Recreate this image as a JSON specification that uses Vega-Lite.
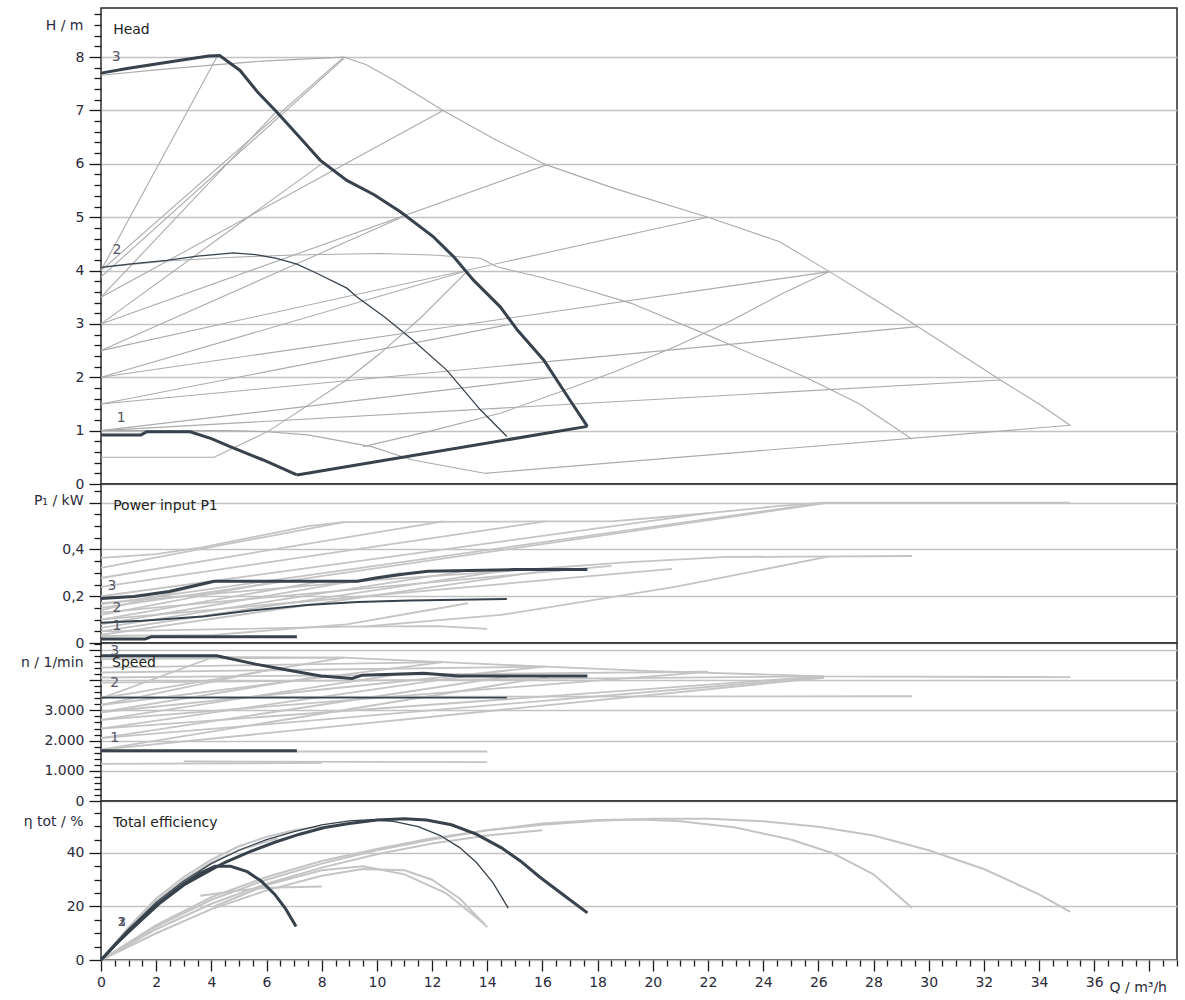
{
"$schema": "https://vega.github.io/schema/vega-lite/v6.json",
"background": "white",
"padding": {"left": 19, "top": 6, "right": 6, "bottom": 2},
"spacing": 0,
"bounds": "flush",
"config": {
  "font": "DejaVu Sans",
  "view": {"stroke": "#2a2a2a", "strokeWidth": 1.5},
  "axis": {"labelFont": "DejaVu Sans", "labelFontSize": 14, "labelColor": "#2a2a3a", "tickColor": "#1a1a1a", "tickWidth": 1.3, "gridColor": "#c2c2c2", "gridWidth": 1.5, "domain": false, "labelOverlap": false, "labelFlush": false, "titleFont": "DejaVu Sans", "titleFontSize": 14, "titleFontWeight": "normal", "titleColor": "#2a2a3a", "labelPadding": 5},
  "concat": {"spacing": 0}
},
"datasets": {
"titles": [
{"p":"head","t":"Head","q":0.44,"v":8.5},
{"p":"power","t":"Power input P1","q":0.44,"v":0.585},
{"p":"speed","t":"Speed","q":0.4,"v":4567},
{"p":"eff","t":"Total efficiency","q":0.44,"v":51.2}
],
"labels": [
{"p":"head","t":"3","q":0.55,"v":8.0},{"p":"head","t":"2","q":0.58,"v":4.38},{"p":"head","t":"1","q":0.73,"v":1.24},
{"p":"power","t":"3","q":0.4,"v":0.242},{"p":"power","t":"2","q":0.58,"v":0.15},{"p":"power","t":"1","q":0.58,"v":0.073},
{"p":"speed","t":"3","q":0.5,"v":4967},{"p":"speed","t":"2","q":0.5,"v":3900},{"p":"speed","t":"1","q":0.5,"v":2100},
{"p":"eff","t":"1","q":0.76,"v":14.2},{"p":"eff","t":"2","q":0.76,"v":14.2},{"p":"eff","t":"3","q":0.76,"v":14.2}
],
"head": [
{"s":"A3","k":"d","q":0,"v":7.70},{"s":"A3","k":"d","q":1,"v":7.79},{"s":"A3","k":"d","q":2,"v":7.87},{"s":"A3","k":"d","q":3,"v":7.95},{"s":"A3","k":"d","q":3.9,"v":8.02},{"s":"A3","k":"d","q":4.3,"v":8.03},{"s":"A3","k":"d","q":5.04,"v":7.75},{"s":"A3","k":"d","q":5.7,"v":7.33},{"s":"A3","k":"d","q":6.37,"v":6.97},{"s":"A3","k":"d","q":7.2,"v":6.5},{"s":"A3","k":"d","q":7.94,"v":6.07},{"s":"A3","k":"d","q":8.91,"v":5.69},{"s":"A3","k":"d","q":9.9,"v":5.42},{"s":"A3","k":"d","q":10.85,"v":5.10},{"s":"A3","k":"d","q":12.05,"v":4.63},{"s":"A3","k":"d","q":12.8,"v":4.25},{"s":"A3","k":"d","q":13.5,"v":3.82},{"s":"A3","k":"d","q":14.47,"v":3.32},{"s":"A3","k":"d","q":15.1,"v":2.88},{"s":"A3","k":"d","q":16.05,"v":2.32},{"s":"A3","k":"d","q":17.0,"v":1.57},{"s":"A3","k":"d","q":17.55,"v":1.14},{"s":"A3","k":"d","q":17.63,"v":1.08},
{"s":"Amin","k":"d","q":7.1,"v":0.17},{"s":"Amin","k":"d","q":17.63,"v":1.08},
{"s":"A1","k":"d","q":0,"v":0.92},{"s":"A1","k":"d","q":1.45,"v":0.92},{"s":"A1","k":"d","q":1.66,"v":0.98},{"s":"A1","k":"d","q":3.23,"v":0.98},{"s":"A1","k":"d","q":4.0,"v":0.85},{"s":"A1","k":"d","q":4.68,"v":0.70},{"s":"A1","k":"d","q":5.88,"v":0.45},{"s":"A1","k":"d","q":7.1,"v":0.17},
{"s":"A2","k":"t","q":0,"v":4.06},{"s":"A2","k":"t","q":1,"v":4.12},{"s":"A2","k":"t","q":2.38,"v":4.19},{"s":"A2","k":"t","q":3.5,"v":4.27},{"s":"A2","k":"t","q":4.8,"v":4.33},{"s":"A2","k":"t","q":5.6,"v":4.30},{"s":"A2","k":"t","q":6.37,"v":4.23},{"s":"A2","k":"t","q":7.1,"v":4.12},{"s":"A2","k":"t","q":7.82,"v":3.95},{"s":"A2","k":"t","q":8.91,"v":3.67},{"s":"A2","k":"t","q":9.27,"v":3.51},{"s":"A2","k":"t","q":10.3,"v":3.12},{"s":"A2","k":"t","q":11.3,"v":2.70},{"s":"A2","k":"t","q":12.54,"v":2.13},{"s":"A2","k":"t","q":13.75,"v":1.39},{"s":"A2","k":"t","q":14.71,"v":0.89},
{"s":"B3","k":"g","q":0,"v":7.66},{"s":"B3","k":"g","q":2,"v":7.76},{"s":"B3","k":"g","q":4,"v":7.85},{"s":"B3","k":"g","q":6,"v":7.93},{"s":"B3","k":"g","q":8.8,"v":8.0},{"s":"B3","k":"g","q":9.6,"v":7.86},{"s":"B3","k":"g","q":10.6,"v":7.57},{"s":"B3","k":"g","q":12.4,"v":7.0},{"s":"B3","k":"g","q":14.3,"v":6.45},{"s":"B3","k":"g","q":16.15,"v":5.98},{"s":"B3","k":"g","q":18.6,"v":5.54},{"s":"B3","k":"g","q":22.0,"v":5.0},{"s":"B3","k":"g","q":24.6,"v":4.54},{"s":"B3","k":"g","q":26.4,"v":3.98},{"s":"B3","k":"g","q":28,"v":3.47},{"s":"B3","k":"g","q":29.6,"v":2.95},{"s":"B3","k":"g","q":31.1,"v":2.45},{"s":"B3","k":"g","q":32.6,"v":1.95},{"s":"B3","k":"g","q":34,"v":1.5},{"s":"B3","k":"g","q":35.13,"v":1.10},
{"s":"Bmin","k":"g","q":13.9,"v":0.2},{"s":"Bmin","k":"g","q":35.13,"v":1.10},
{"s":"B1","k":"g","q":0,"v":1.0},{"s":"B1","k":"g","q":4.6,"v":1.0},{"s":"B1","k":"g","q":6,"v":0.98},{"s":"B1","k":"g","q":7.5,"v":0.92},{"s":"B1","k":"g","q":9.8,"v":0.70},{"s":"B1","k":"g","q":11.3,"v":0.45},{"s":"B1","k":"g","q":13.9,"v":0.2},
{"s":"B2","k":"g","q":0,"v":4.06},{"s":"B2","k":"g","q":2.4,"v":4.18},{"s":"B2","k":"g","q":4.8,"v":4.25},{"s":"B2","k":"g","q":7,"v":4.29},{"s":"B2","k":"g","q":10.1,"v":4.32},{"s":"B2","k":"g","q":12,"v":4.29},{"s":"B2","k":"g","q":13.75,"v":4.23},{"s":"B2","k":"g","q":14.35,"v":4.07},{"s":"B2","k":"g","q":15.9,"v":3.88},{"s":"B2","k":"g","q":17.4,"v":3.67},{"s":"B2","k":"g","q":19.2,"v":3.39},{"s":"B2","k":"g","q":22.0,"v":2.79},{"s":"B2","k":"g","q":25.5,"v":2.01},{"s":"B2","k":"g","q":27.5,"v":1.5},{"s":"B2","k":"g","q":29.4,"v":0.84},
{"s":"pa8","k":"g","q":0,"v":4.0},{"s":"pa8","k":"g","q":4.2,"v":8.0},
{"s":"pa7","k":"g","q":0,"v":3.5},{"s":"pa7","k":"g","q":6.4,"v":7.0},
{"s":"pa6","k":"g","q":0,"v":3.0},{"s":"pa6","k":"g","q":8.0,"v":6.0},
{"s":"pa5","k":"g","q":0,"v":2.5},{"s":"pa5","k":"g","q":10.9,"v":5.0},
{"s":"pa4","k":"g","q":0,"v":2.0},{"s":"pa4","k":"g","q":13.3,"v":4.0},
{"s":"pa3","k":"g","q":0,"v":1.5},{"s":"pa3","k":"g","q":14.9,"v":3.0},
{"s":"pa2","k":"g","q":0,"v":1.0},{"s":"pa2","k":"g","q":16.4,"v":2.0},
{"s":"pb8","k":"g","q":0,"v":4.0},{"s":"pb8","k":"g","q":8.8,"v":8.0},
{"s":"pb8b","k":"g","q":0,"v":3.88},{"s":"pb8b","k":"g","q":8.8,"v":7.97},
{"s":"pb7","k":"g","q":0,"v":3.5},{"s":"pb7","k":"g","q":12.4,"v":7.0},
{"s":"pb6","k":"g","q":0,"v":3.0},{"s":"pb6","k":"g","q":16.15,"v":5.98},
{"s":"pb5","k":"g","q":0,"v":2.5},{"s":"pb5","k":"g","q":22.0,"v":5.0},
{"s":"pb4","k":"g","q":0,"v":2.0},{"s":"pb4","k":"g","q":26.4,"v":3.98},
{"s":"pb3","k":"g","q":0,"v":1.5},{"s":"pb3","k":"g","q":29.6,"v":2.95},
{"s":"pb2","k":"g","q":0,"v":1.0},{"s":"pb2","k":"g","q":32.6,"v":1.95},
{"s":"ra","k":"g","q":0,"v":0.5},{"s":"ra","k":"g","q":4.1,"v":0.5},{"s":"ra","k":"g","q":6.1,"v":1.0},{"s":"ra","k":"g","q":8.9,"v":1.95},{"s":"ra","k":"g","q":10.1,"v":2.44},{"s":"ra","k":"g","q":11.6,"v":3.12},{"s":"ra","k":"g","q":13.3,"v":4.0},
{"s":"rb","k":"g","q":9.5,"v":0.7},{"s":"rb","k":"g","q":12,"v":1.0},{"s":"rb","k":"g","q":14.5,"v":1.33},{"s":"rb","k":"g","q":16.5,"v":1.70},{"s":"rb","k":"g","q":18.6,"v":2.1},{"s":"rb","k":"g","q":20.8,"v":2.57},{"s":"rb","k":"g","q":22.8,"v":3.05},{"s":"rb","k":"g","q":24.7,"v":3.57},{"s":"rb","k":"g","q":26.4,"v":3.98}
],
"power": [
{"s":"A3","k":"d","q":0,"v":0.19},{"s":"A3","k":"d","q":1.2,"v":0.199},{"s":"A3","k":"d","q":2.47,"v":0.22},{"s":"A3","k":"d","q":4.09,"v":0.264},{"s":"A3","k":"d","q":9.3,"v":0.264},{"s":"A3","k":"d","q":9.97,"v":0.278},{"s":"A3","k":"d","q":11.0,"v":0.295},{"s":"A3","k":"d","q":11.85,"v":0.307},{"s":"A3","k":"d","q":14.97,"v":0.314},{"s":"A3","k":"d","q":17.63,"v":0.314},
{"s":"A1","k":"d","q":0,"v":0.017},{"s":"A1","k":"d","q":1.6,"v":0.017},{"s":"A1","k":"d","q":1.84,"v":0.027},{"s":"A1","k":"d","q":7.1,"v":0.027},
{"s":"A2","k":"t","q":0,"v":0.087},{"s":"A2","k":"t","q":1.5,"v":0.095},{"s":"A2","k":"t","q":3.7,"v":0.113},{"s":"A2","k":"t","q":5.5,"v":0.14},{"s":"A2","k":"t","q":7.47,"v":0.163},{"s":"A2","k":"t","q":9.3,"v":0.175},{"s":"A2","k":"t","q":11.2,"v":0.182},{"s":"A2","k":"t","q":14.71,"v":0.188},
{"s":"B3","k":"g","q":0,"v":0.364},{"s":"B3","k":"g","q":2,"v":0.38},{"s":"B3","k":"g","q":3.7,"v":0.41},{"s":"B3","k":"g","q":5.6,"v":0.455},{"s":"B3","k":"g","q":7.5,"v":0.50},{"s":"B3","k":"g","q":8.8,"v":0.517},{"s":"B3","k":"g","q":16.1,"v":0.52},{"s":"B3","k":"g","q":18.5,"v":0.52},{"s":"B3","k":"g","q":20.5,"v":0.54},{"s":"B3","k":"g","q":22,"v":0.555},{"s":"B3","k":"g","q":24.5,"v":0.585},{"s":"B3","k":"g","q":26.2,"v":0.60},{"s":"B3","k":"g","q":35.13,"v":0.60},
{"s":"pb8","k":"g","q":0,"v":0.321},{"s":"pb8","k":"g","q":8.8,"v":0.517},
{"s":"pb7","k":"g","q":0,"v":0.278},{"s":"pb7","k":"g","q":12.4,"v":0.52},
{"s":"pb6","k":"g","q":0,"v":0.24},{"s":"pb6","k":"g","q":16.1,"v":0.52},
{"s":"pb5","k":"g","q":0,"v":0.20},{"s":"pb5","k":"g","q":22,"v":0.555},
{"s":"pb4","k":"g","q":0,"v":0.165},{"s":"pb4","k":"g","q":26.2,"v":0.60},
{"s":"pb4b","k":"g","q":0,"v":0.15},{"s":"pb4b","k":"g","q":26.2,"v":0.597},
{"s":"pb3","k":"g","q":0,"v":0.13},{"s":"pb3","k":"g","q":18.5,"v":0.33},
{"s":"pb2","k":"g","q":0,"v":0.10},{"s":"pb2","k":"g","q":20.7,"v":0.317},
{"s":"B2","k":"g","q":0,"v":0.17},{"s":"B2","k":"g","q":5,"v":0.22},{"s":"B2","k":"g","q":10,"v":0.27},{"s":"B2","k":"g","q":15,"v":0.31},{"s":"B2","k":"g","q":19,"v":0.345},{"s":"B2","k":"g","q":22.7,"v":0.368},{"s":"B2","k":"g","q":29.4,"v":0.372},
{"s":"B1","k":"g","q":0,"v":0.05},{"s":"B1","k":"g","q":5,"v":0.06},{"s":"B1","k":"g","q":9,"v":0.07},{"s":"B1","k":"g","q":12.2,"v":0.072},{"s":"B1","k":"g","q":14,"v":0.06},
{"s":"pa8","k":"g","q":0,"v":0.14},{"s":"pa8","k":"g","q":4.2,"v":0.264},
{"s":"pa7","k":"g","q":0,"v":0.12},{"s":"pa7","k":"g","q":6.4,"v":0.264},
{"s":"pa6","k":"g","q":0,"v":0.10},{"s":"pa6","k":"g","q":8.0,"v":0.264},
{"s":"pa5","k":"g","q":0,"v":0.08},{"s":"pa5","k":"g","q":10.9,"v":0.30},
{"s":"pa4","k":"g","q":0,"v":0.065},{"s":"pa4","k":"g","q":13.3,"v":0.31},
{"s":"pa3","k":"g","q":0,"v":0.05},{"s":"pa3","k":"g","q":14.9,"v":0.314},
{"s":"pa2","k":"g","q":0,"v":0.035},{"s":"pa2","k":"g","q":16.4,"v":0.314},
{"s":"ra","k":"g","q":0,"v":0.03},{"s":"ra","k":"g","q":4.1,"v":0.035},{"s":"ra","k":"g","q":8.9,"v":0.08},{"s":"ra","k":"g","q":13.3,"v":0.17},
{"s":"rb","k":"g","q":9.5,"v":0.07},{"s":"rb","k":"g","q":14.5,"v":0.12},{"s":"rb","k":"g","q":20.8,"v":0.24},{"s":"rb","k":"g","q":26.4,"v":0.37}
],
"speed": [
{"s":"A3","k":"d","q":0,"v":4810},{"s":"A3","k":"d","q":4.2,"v":4810},{"s":"A3","k":"d","q":5.6,"v":4533},{"s":"A3","k":"d","q":6.8,"v":4330},{"s":"A3","k":"d","q":7.97,"v":4143},{"s":"A3","k":"d","q":9.1,"v":4056},{"s":"A3","k":"d","q":9.47,"v":4167},{"s":"A3","k":"d","q":11.7,"v":4233},{"s":"A3","k":"d","q":12.97,"v":4143},{"s":"A3","k":"d","q":17.63,"v":4143},
{"s":"A1","k":"d","q":0,"v":1667},{"s":"A1","k":"d","q":7.1,"v":1667},
{"s":"A2","k":"t","q":0,"v":3423},{"s":"A2","k":"t","q":14.71,"v":3423},
{"s":"B3","k":"g","q":0,"v":4780},{"s":"B3","k":"g","q":8.8,"v":4750},{"s":"B3","k":"g","q":12.4,"v":4600},{"s":"B3","k":"g","q":16.1,"v":4450},{"s":"B3","k":"g","q":20,"v":4300},{"s":"B3","k":"g","q":26.2,"v":4130},{"s":"B3","k":"g","q":35.13,"v":4100},
{"s":"pa8","k":"g","q":0,"v":3400},{"s":"pa8","k":"g","q":4.2,"v":4810},
{"s":"pa7","k":"g","q":0,"v":3180},{"s":"pa7","k":"g","q":6.4,"v":4400},
{"s":"pa6","k":"g","q":0,"v":2940},{"s":"pa6","k":"g","q":8,"v":4143},
{"s":"pa5","k":"g","q":0,"v":2690},{"s":"pa5","k":"g","q":10.9,"v":4210},
{"s":"pa4","k":"g","q":0,"v":2400},{"s":"pa4","k":"g","q":13.3,"v":4143},
{"s":"pa3","k":"g","q":0,"v":2080},{"s":"pa3","k":"g","q":14.9,"v":4143},
{"s":"pa2","k":"g","q":0,"v":1700},{"s":"pa2","k":"g","q":16.4,"v":4143},
{"s":"pb8","k":"g","q":0,"v":3400},{"s":"pb8","k":"g","q":8.8,"v":4750},
{"s":"pb7","k":"g","q":0,"v":3180},{"s":"pb7","k":"g","q":12.4,"v":4600},
{"s":"pb6","k":"g","q":0,"v":2940},{"s":"pb6","k":"g","q":16.1,"v":4450},
{"s":"pb5","k":"g","q":0,"v":2690},{"s":"pb5","k":"g","q":22,"v":4280},
{"s":"pb4","k":"g","q":0,"v":2400},{"s":"pb4","k":"g","q":26.2,"v":4130},
{"s":"pb3","k":"g","q":0,"v":2080},{"s":"pb3","k":"g","q":26.2,"v":4100},
{"s":"pb2","k":"g","q":0,"v":1700},{"s":"pb2","k":"g","q":26.2,"v":4080},
{"s":"c1","k":"g","q":0,"v":4700},{"s":"c1","k":"g","q":8.8,"v":4750},
{"s":"c2","k":"g","q":0,"v":4420},{"s":"c2","k":"g","q":12.4,"v":4600},
{"s":"c3","k":"g","q":0,"v":4256},{"s":"c3","k":"g","q":16.1,"v":4450},
{"s":"c4","k":"g","q":0,"v":4090},{"s":"c4","k":"g","q":22,"v":4280},
{"s":"c5","k":"g","q":0,"v":3920},{"s":"c5","k":"g","q":26.2,"v":4130},
{"s":"B2","k":"g","q":0,"v":3440},{"s":"B2","k":"g","q":29.4,"v":3470},
{"s":"B1","k":"g","q":0,"v":1640},{"s":"B1","k":"g","q":14,"v":1640},
{"s":"r1","k":"g","q":0,"v":1230},{"s":"r1","k":"g","q":8,"v":1260},
{"s":"r2","k":"g","q":3,"v":1310},{"s":"r2","k":"g","q":14,"v":1290}
],
"eff": [
{"s":"A3","k":"d","q":0,"v":0},{"s":"A3","k":"d","q":0.5,"v":5.5},{"s":"A3","k":"d","q":1.05,"v":11},{"s":"A3","k":"d","q":2.1,"v":21},{"s":"A3","k":"d","q":3,"v":28},{"s":"A3","k":"d","q":3.6,"v":31.5},{"s":"A3","k":"d","q":4.5,"v":36.5},{"s":"A3","k":"d","q":5.4,"v":40.5},{"s":"A3","k":"d","q":6.3,"v":44},{"s":"A3","k":"d","q":7.2,"v":47},{"s":"A3","k":"d","q":8.1,"v":49.5},{"s":"A3","k":"d","q":9,"v":51},{"s":"A3","k":"d","q":10,"v":52.3},{"s":"A3","k":"d","q":11,"v":52.8},{"s":"A3","k":"d","q":11.8,"v":52.3},{"s":"A3","k":"d","q":12.7,"v":50.5},{"s":"A3","k":"d","q":13.6,"v":47},{"s":"A3","k":"d","q":14.5,"v":42},{"s":"A3","k":"d","q":15.2,"v":37},{"s":"A3","k":"d","q":15.9,"v":31},{"s":"A3","k":"d","q":16.8,"v":24},{"s":"A3","k":"d","q":17.63,"v":17.6},
{"s":"A1","k":"d","q":0,"v":0},{"s":"A1","k":"d","q":0.5,"v":5.5},{"s":"A1","k":"d","q":1,"v":11},{"s":"A1","k":"d","q":2,"v":20.5},{"s":"A1","k":"d","q":3,"v":28.5},{"s":"A1","k":"d","q":3.6,"v":32.5},{"s":"A1","k":"d","q":4.13,"v":35},{"s":"A1","k":"d","q":4.7,"v":35},{"s":"A1","k":"d","q":5.3,"v":33},{"s":"A1","k":"d","q":5.8,"v":29.5},{"s":"A1","k":"d","q":6.3,"v":24.5},{"s":"A1","k":"d","q":6.7,"v":19},{"s":"A1","k":"d","q":7.07,"v":12.5},
{"s":"A2","k":"t","q":0,"v":0},{"s":"A2","k":"t","q":0.5,"v":6},{"s":"A2","k":"t","q":1,"v":11.5},{"s":"A2","k":"t","q":2,"v":21.5},{"s":"A2","k":"t","q":3,"v":29.5},{"s":"A2","k":"t","q":4,"v":36},{"s":"A2","k":"t","q":5,"v":41},{"s":"A2","k":"t","q":6,"v":45},{"s":"A2","k":"t","q":7,"v":48},{"s":"A2","k":"t","q":8,"v":50.5},{"s":"A2","k":"t","q":9,"v":52},{"s":"A2","k":"t","q":9.8,"v":52.4},{"s":"A2","k":"t","q":10.6,"v":51.8},{"s":"A2","k":"t","q":11.5,"v":49.8},{"s":"A2","k":"t","q":12.3,"v":46.5},{"s":"A2","k":"t","q":13,"v":42},{"s":"A2","k":"t","q":13.6,"v":36.5},{"s":"A2","k":"t","q":14.2,"v":29},{"s":"A2","k":"t","q":14.76,"v":19.4},
{"s":"B3","k":"g","q":0,"v":0},{"s":"B3","k":"g","q":2,"v":13},{"s":"B3","k":"g","q":4,"v":23.5},{"s":"B3","k":"g","q":6,"v":31},{"s":"B3","k":"g","q":8,"v":37},{"s":"B3","k":"g","q":10,"v":41.5},{"s":"B3","k":"g","q":12,"v":45.5},{"s":"B3","k":"g","q":14,"v":48.5},{"s":"B3","k":"g","q":16,"v":50.5},{"s":"B3","k":"g","q":18,"v":52},{"s":"B3","k":"g","q":20,"v":52.8},{"s":"B3","k":"g","q":22,"v":52.8},{"s":"B3","k":"g","q":24,"v":51.8},{"s":"B3","k":"g","q":26,"v":49.8},{"s":"B3","k":"g","q":28,"v":46.5},{"s":"B3","k":"g","q":30,"v":41},{"s":"B3","k":"g","q":32,"v":34},{"s":"B3","k":"g","q":34,"v":24.5},{"s":"B3","k":"g","q":35.13,"v":18},
{"s":"B2","k":"g","q":0,"v":0},{"s":"B2","k":"g","q":2,"v":12.5},{"s":"B2","k":"g","q":4,"v":22.5},{"s":"B2","k":"g","q":6,"v":30},{"s":"B2","k":"g","q":8,"v":36},{"s":"B2","k":"g","q":10,"v":41},{"s":"B2","k":"g","q":12,"v":45},{"s":"B2","k":"g","q":14,"v":48.5},{"s":"B2","k":"g","q":16,"v":51},{"s":"B2","k":"g","q":18,"v":52.3},{"s":"B2","k":"g","q":19.5,"v":52.5},{"s":"B2","k":"g","q":21,"v":51.8},{"s":"B2","k":"g","q":23,"v":49.5},{"s":"B2","k":"g","q":25,"v":45},{"s":"B2","k":"g","q":26.5,"v":40},{"s":"B2","k":"g","q":28,"v":32},{"s":"B2","k":"g","q":29.4,"v":19.4},
{"s":"B1","k":"g","q":0,"v":0},{"s":"B1","k":"g","q":2,"v":10},{"s":"B1","k":"g","q":4,"v":19},{"s":"B1","k":"g","q":6,"v":26},{"s":"B1","k":"g","q":8,"v":31.5},{"s":"B1","k":"g","q":9.5,"v":34},{"s":"B1","k":"g","q":11,"v":33.5},{"s":"B1","k":"g","q":12,"v":30},{"s":"B1","k":"g","q":13,"v":23},{"s":"B1","k":"g","q":14,"v":12.3},
{"s":"G1","k":"g","q":0,"v":0},{"s":"G1","k":"g","q":1,"v":12.3},{"s":"G1","k":"g","q":2,"v":23},{"s":"G1","k":"g","q":3,"v":31},{"s":"G1","k":"g","q":4,"v":37.5},{"s":"G1","k":"g","q":5,"v":42.5},{"s":"G1","k":"g","q":6,"v":46},{"s":"G1","k":"g","q":7,"v":48.5},{"s":"G1","k":"g","q":8,"v":50},
{"s":"G2","k":"g","q":0,"v":0},{"s":"G2","k":"g","q":1,"v":11.8},{"s":"G2","k":"g","q":2,"v":22},{"s":"G2","k":"g","q":3,"v":30},{"s":"G2","k":"g","q":4,"v":36.5},{"s":"G2","k":"g","q":5,"v":41},{"s":"G2","k":"g","q":6.4,"v":45.5},
{"s":"G3","k":"g","q":0,"v":0},{"s":"G3","k":"g","q":2,"v":11.5},{"s":"G3","k":"g","q":4,"v":21},{"s":"G3","k":"g","q":6,"v":28.5},{"s":"G3","k":"g","q":8,"v":34.5},{"s":"G3","k":"g","q":10,"v":39.5},{"s":"G3","k":"g","q":12,"v":43.5},{"s":"G3","k":"g","q":14,"v":46.5},{"s":"G3","k":"g","q":16,"v":48.5},
{"s":"G4","k":"g","q":3.6,"v":24},{"s":"G4","k":"g","q":5,"v":26},{"s":"G4","k":"g","q":6,"v":27},{"s":"G4","k":"g","q":8,"v":27.5},
{"s":"G5","k":"g","q":4.1,"v":20},{"s":"G5","k":"g","q":6,"v":28},{"s":"G5","k":"g","q":8,"v":33.5},{"s":"G5","k":"g","q":9.5,"v":35},{"s":"G5","k":"g","q":11,"v":32},{"s":"G5","k":"g","q":12.5,"v":25},{"s":"G5","k":"g","q":13.9,"v":13.5}
]
},
"vconcat": [
{
  "width": 1076, "height": 476,
  "data": {"name": "head"},
  "encoding": {
    "x": {"field": "q", "type": "quantitative", "scale": {"domain": [0, 39], "nice": false}, "axis": null},
    "y": {"field": "v", "type": "quantitative", "scale": {"domain": [0, 8.92], "nice": false},
      "axis": {"values": [0,0.2,0.4,0.6,0.8,1,1.2,1.4,1.6,1.8,2,2.2,2.4,2.6,2.8,3,3.2,3.4,3.6,3.8,4,4.2,4.4,4.6,4.8,5,5.2,5.4,5.6,5.8,6,6.2,6.4,6.6,6.8,7,7.2,7.4,7.6,7.8,8,8.2,8.4,8.6,8.8],
        "tickSize": {"condition": {"test": "abs(datum.value - round(datum.value)) < 0.001", "value": 12}, "value": 7},
        "gridOpacity": {"condition": {"test": "abs(datum.value - round(datum.value)) < 0.001", "value": 1}, "value": 0},
        "labelExpr": "abs(datum.value - round(datum.value)) < 0.001 ? format(datum.value, 'd') : ''",
        "title": "H / m", "titleAngle": 0, "titleAlign": "right", "titleBaseline": "middle", "titleX": -18, "titleY": 17}}
  },
  "layer": [
    {"transform": [{"filter": "datum.k == 'g'"}], "mark": {"type": "line", "color": "#ababab", "strokeWidth": 1.1}, "encoding": {"detail": {"field": "s"}}},
    {"transform": [{"filter": "datum.k == 'd'"}], "mark": {"type": "line", "color": "#38424c", "strokeWidth": 3}, "encoding": {"detail": {"field": "s"}}},
    {"transform": [{"filter": "datum.k == 't'"}], "mark": {"type": "line", "color": "#38424c", "strokeWidth": 1.3}, "encoding": {"detail": {"field": "s"}}},
    {"data": {"name": "labels"}, "transform": [{"filter": "datum.p == 'head'"}], "mark": {"type": "text", "fontSize": 14, "color": "#555566", "font": "DejaVu Sans"}, "encoding": {"text": {"field": "t"}}},
    {"data": {"name": "titles"}, "transform": [{"filter": "datum.p == 'head'"}], "mark": {"type": "text", "fontSize": 14, "color": "#222222", "font": "DejaVu Sans", "align": "left", "baseline": "middle"}, "encoding": {"text": {"field": "t"}}}
  ]
},
{
  "width": 1076, "height": 159,
  "data": {"name": "power"},
  "encoding": {
    "x": {"field": "q", "type": "quantitative", "scale": {"domain": [0, 39], "nice": false}, "axis": null},
    "y": {"field": "v", "type": "quantitative", "scale": {"domain": [0, 0.68], "nice": false},
      "axis": {"values": [0,0.05,0.1,0.15,0.2,0.25,0.3,0.35,0.4,0.45,0.5,0.55,0.6,0.65],
        "tickSize": {"condition": {"test": "abs(datum.value*5 - round(datum.value*5)) < 0.001", "value": 12}, "value": 7},
        "gridOpacity": {"condition": {"test": "abs(datum.value*5 - round(datum.value*5)) < 0.001", "value": 1}, "value": 0},
        "labelExpr": "(abs(datum.value*5 - round(datum.value*5)) < 0.001 && datum.value < 0.5) ? replace(format(datum.value, '.1~f'), '.', ',') : ''",
        "title": "P₁ / kW", "titleAngle": 0, "titleAlign": "right", "titleBaseline": "middle", "titleX": -18, "titleY": 16}}
  },
  "layer": [
    {"transform": [{"filter": "datum.k == 'g'"}], "mark": {"type": "line", "color": "#c4c4c4", "strokeWidth": 1.8}, "encoding": {"detail": {"field": "s"}}},
    {"transform": [{"filter": "datum.k == 'd'"}], "mark": {"type": "line", "color": "#38424c", "strokeWidth": 3}, "encoding": {"detail": {"field": "s"}}},
    {"transform": [{"filter": "datum.k == 't'"}], "mark": {"type": "line", "color": "#38424c", "strokeWidth": 2}, "encoding": {"detail": {"field": "s"}}},
    {"data": {"name": "labels"}, "transform": [{"filter": "datum.p == 'power'"}], "mark": {"type": "text", "fontSize": 14, "color": "#555566", "font": "DejaVu Sans"}, "encoding": {"text": {"field": "t"}}},
    {"data": {"name": "titles"}, "transform": [{"filter": "datum.p == 'power'"}], "mark": {"type": "text", "fontSize": 14, "color": "#222222", "font": "DejaVu Sans", "align": "left", "baseline": "middle"}, "encoding": {"text": {"field": "t"}}}
  ]
},
{
  "width": 1076, "height": 158,
  "data": {"name": "speed"},
  "encoding": {
    "x": {"field": "q", "type": "quantitative", "scale": {"domain": [0, 39], "nice": false}, "axis": null},
    "y": {"field": "v", "type": "quantitative", "scale": {"domain": [0, 5233], "nice": false},
      "axis": {"values": [0,200,400,600,800,1000,1200,1400,1600,1800,2000,2200,2400,2600,2800,3000,3200,3400,3600,3800,4000,4200,4400,4600,4800,5000,5200],
        "tickSize": {"condition": {"test": "datum.value % 1000 === 0", "value": 12}, "value": 7},
        "gridOpacity": {"condition": {"test": "datum.value % 1000 === 0", "value": 1}, "value": 0},
        "labelExpr": "(datum.value % 1000 === 0 && datum.value <= 3000) ? replace(format(datum.value, ','), ',', '.') : ''",
        "title": "n / 1/min", "titleAngle": 0, "titleAlign": "right", "titleBaseline": "middle", "titleX": -18, "titleY": 19}}
  },
  "layer": [
    {"transform": [{"filter": "datum.k == 'g'"}], "mark": {"type": "line", "color": "#c4c4c4", "strokeWidth": 1.8}, "encoding": {"detail": {"field": "s"}}},
    {"transform": [{"filter": "datum.k == 'd'"}], "mark": {"type": "line", "color": "#38424c", "strokeWidth": 3}, "encoding": {"detail": {"field": "s"}}},
    {"transform": [{"filter": "datum.k == 't'"}], "mark": {"type": "line", "color": "#38424c", "strokeWidth": 1.6}, "encoding": {"detail": {"field": "s"}}},
    {"data": {"name": "labels"}, "transform": [{"filter": "datum.p == 'speed'"}], "mark": {"type": "text", "fontSize": 14, "color": "#555566", "font": "DejaVu Sans"}, "encoding": {"text": {"field": "t"}}},
    {"data": {"name": "titles"}, "transform": [{"filter": "datum.p == 'speed'"}], "mark": {"type": "text", "fontSize": 14, "color": "#222222", "font": "DejaVu Sans", "align": "left", "baseline": "middle"}, "encoding": {"text": {"field": "t"}}}
  ]
},
{
  "width": 1076, "height": 159,
  "data": {"name": "eff"},
  "encoding": {
    "x": {"field": "q", "type": "quantitative", "scale": {"domain": [0, 39], "nice": false},
      "axis": {"values": [0,0.5,1,1.5,2,2.5,3,3.5,4,4.5,5,5.5,6,6.5,7,7.5,8,8.5,9,9.5,10,10.5,11,11.5,12,12.5,13,13.5,14,14.5,15,15.5,16,16.5,17,17.5,18,18.5,19,19.5,20,20.5,21,21.5,22,22.5,23,23.5,24,24.5,25,25.5,26,26.5,27,27.5,28,28.5,29,29.5,30,30.5,31,31.5,32,32.5,33,33.5,34,34.5,35,35.5,36,36.5,37,37.5,38,38.5,39],
        "tickSize": {"condition": {"test": "datum.value % 2 === 0", "value": 11}, "value": 6},
        "grid": false,
        "labelPadding": 4,
        "labelExpr": "(datum.value % 2 === 0 && datum.value <= 36) ? format(datum.value, 'd') : ''",
        "title": "Q / m³/h", "titleAlign": "left", "titleBaseline": "alphabetic", "titleX": 1008, "titleY": 31, "titleAngle": 0}},
    "y": {"field": "v", "type": "quantitative", "scale": {"domain": [0, 59.4], "nice": false},
      "axis": {"values": [0,5,10,15,20,25,30,35,40,45,50,55],
        "tickSize": {"condition": {"test": "datum.value % 20 === 0", "value": 12}, "value": 7},
        "gridOpacity": {"condition": {"test": "datum.value % 20 === 0", "value": 1}, "value": 0},
        "labelExpr": "datum.value % 20 === 0 ? format(datum.value, 'd') : ''",
        "title": "η tot / %", "titleAngle": 0, "titleAlign": "right", "titleBaseline": "middle", "titleX": -18, "titleY": 20}}
  },
  "layer": [
    {"transform": [{"filter": "datum.k == 'g'"}], "mark": {"type": "line", "color": "#c4c4c4", "strokeWidth": 2}, "encoding": {"detail": {"field": "s"}}},
    {"transform": [{"filter": "datum.k == 'd'"}], "mark": {"type": "line", "color": "#38424c", "strokeWidth": 3}, "encoding": {"detail": {"field": "s"}}},
    {"transform": [{"filter": "datum.k == 't'"}], "mark": {"type": "line", "color": "#38424c", "strokeWidth": 1.3}, "encoding": {"detail": {"field": "s"}}},
    {"data": {"name": "labels"}, "transform": [{"filter": "datum.p == 'eff'"}], "mark": {"type": "text", "fontSize": 13, "color": "#555566", "font": "DejaVu Sans"}, "encoding": {"text": {"field": "t"}}},
    {"data": {"name": "titles"}, "transform": [{"filter": "datum.p == 'eff'"}], "mark": {"type": "text", "fontSize": 14, "color": "#222222", "font": "DejaVu Sans", "align": "left", "baseline": "middle"}, "encoding": {"text": {"field": "t"}}}
  ]
}
]
}
